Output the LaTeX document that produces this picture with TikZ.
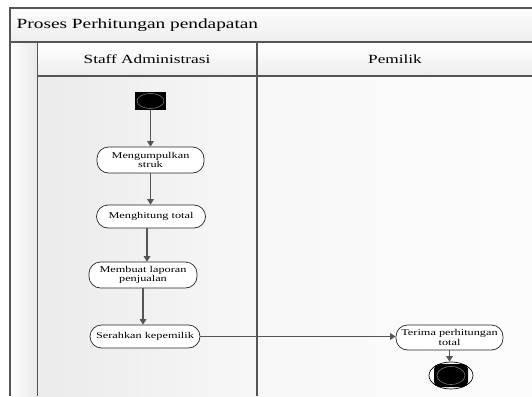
\documentclass[tikz,border=0pt]{standalone}
\usepackage{fontspec}
\setmainfont{Liberation Serif}[FakeStretch=1.38]
\usetikzlibrary{arrows.meta,shapes.geometric}
\definecolor{linec}{HTML}{555555}
\newcommand{\titlefont}{\fontsize{14}{16}\selectfont}
\newcommand{\hdrfont}{\fontsize{12.5}{14}\selectfont}
\newcommand{\actfont}{\fontsize{8.9}{9.6}\selectfont}
\tikzset{
  frameline/.style={draw=linec, line width=1.5pt},
  act/.style={draw=black!85, fill=white, rounded corners=11.5pt, line width=0.7pt,
    minimum width=107pt, minimum height=25pt, inner sep=1pt, align=center, font=\actfont},
  arr/.style={draw=linec, line width=1.5pt, -{Triangle[width=6.5pt,length=5.5pt]}},
  hdr/.style={font=\hdrfont, inner sep=0pt},
}
\begin{document}
\begin{tikzpicture}[x=1pt,y=-1pt]
\useasboundingbox (0,0) rectangle (532,396);
% backgrounds
\fill[white] (0,0) rectangle (532,396);
\shade[top color=black!1, bottom color=black!7] (10,8) rectangle (532,42);
\shade[left color=white, right color=black!9] (10,42) rectangle (37.5,396);
\shade[top color=white, bottom color=black!7] (37.5,42) rectangle (257,76);
\shade[top color=white, bottom color=black!7] (257,42) rectangle (532,76);
\shade[left color=black!8, right color=black!3] (37.5,76) rectangle (257,396);
\shade[left color=black!3, right color=black!1] (257,76) rectangle (532,396);
% pool and lane borders
\draw[frameline] (532,8) -- (10,8) -- (10,396);
\draw[frameline] (10,42) -- (532,42);
\draw[frameline] (37.5,42) -- (37.5,396);
\draw[frameline] (37.5,76) -- (532,76);
\draw[frameline] (257,42) -- (257,396);
% titles
\node[hdr, font=\titlefont, anchor=west] (pool) at (16.5,25.5) {Proses Perhitungan pendapatan};
\node[hdr] (laneA) at (147,59.5) {Staff Administrasi};
\node[hdr] (laneB) at (395,59.5) {Pemilik};
% initial node
\node[fill=black, minimum width=31pt, minimum height=18pt, inner sep=0pt] (start) at (150.5,101) {};
\draw[black!55, line width=0.6pt] (start.center) ellipse (13.5 and 7.5);
% activities
\node[act, minimum width=107pt, minimum height=26pt] (kumpul) at (150.5,160) {Mengumpulkan\\struk};
\node[act, minimum width=109pt, minimum height=23pt] (hitung) at (151,216.5) {Menghitung total};
\node[act, minimum width=108pt, minimum height=26pt] (laporan) at (143,275) {Membuat laporan\\penjualan};
\node[act, minimum width=110pt, minimum height=23pt] (serah) at (145,336.5) {Serahkan kepemilik};
\node[act, minimum width=107pt, minimum height=25pt] (terima) at (449.5,337.5) {Terima perhitungan\\total};
% final node
\node[ellipse, draw=black, fill=white, line width=0.7pt, minimum width=44pt, minimum height=27pt, inner sep=0pt] (final) at (451,375.5) {};
\fill[black, rounded corners=5pt] (434,364) rectangle (468,387);
\draw[black!55, line width=0.6pt] (final.center) ellipse (14 and 9);
% control flow
\coordinate (hitungout) at ([xshift=-4pt]hitung.south);
\draw[arr] (start.south) -- (kumpul.north -| start.south);
\draw[arr] (kumpul.south) -- (hitung.north -| kumpul.south);
\draw[arr] (hitungout) -- (laporan.north -| hitungout);
\draw[arr] (laporan.south) -- (serah.north -| laporan.south);
\draw[arr] (serah.east) -- (terima.west |- serah.east);
\draw[arr] (terima.south) -- (final.north -| terima.south);
\end{tikzpicture}
\end{document}
